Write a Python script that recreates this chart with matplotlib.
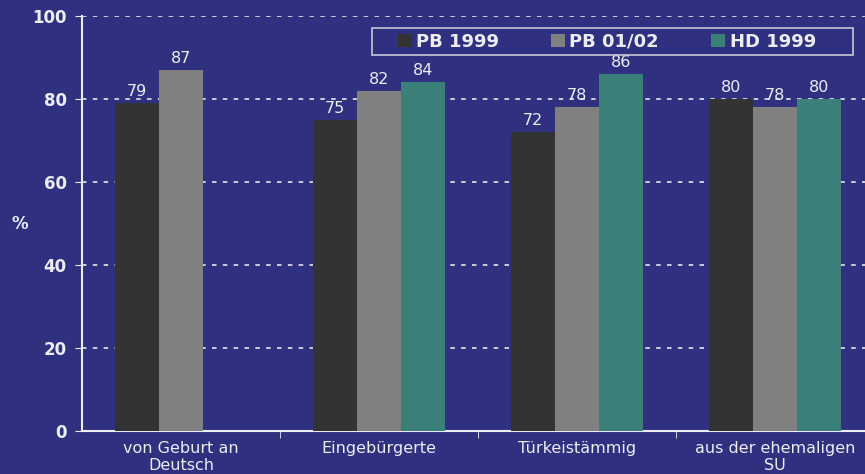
import numpy as np
import matplotlib.pyplot as plt
from matplotlib.patches import Rectangle

kategorien = ['von Geburt an\nDeutsch', 'Eingebürgerte', 'Türkeistämmig', 'aus der ehemaligen\nSU']
pb_1999 = [79, 75, 72, 80]
pb_0102 = [87, 82, 78, 78]
hd_1999 = [np.nan, 84, 86, 80]

reihen = ['PB 1999', 'PB 01/02', 'HD 1999']
farben = ['#333333', '#808080', '#3A8078']
bg = '#2F3080'
txt = '#ECECF4'

fig = plt.figure(figsize=(8.65, 4.74), dpi=100, facecolor=bg)
ax = fig.add_axes([0.0948, 0.0907, 0.9156, 0.8755], facecolor=bg)

x = np.arange(len(kategorien))
breite = 0.222
for i, (werte, name, farbe) in enumerate(zip([pb_1999, pb_0102, hd_1999], reihen, farben)):
    pos = x + (i - 1) * breite
    ax.bar(pos, werte, width=breite, color=farbe, label=name, zorder=3)
    for p, w in zip(pos, werte):
        if not np.isnan(w):
            ax.text(p, w + 1.0, f'{w:.0f}', ha='center', va='bottom',
                    color=txt, fontsize=11.5, zorder=4)

ax.set_xlim(-0.5, 3.5)
ax.set_ylim(0, 100)
ax.set_yticks(range(0, 101, 20))
ax.set_xticks(x)
ax.set_xticklabels(kategorien, color=txt, fontsize=11.5)
ax.set_xticks(np.arange(0.5, 3.5, 1), minor=True)
ax.tick_params(axis='x', which='major', length=0, pad=7)
ax.tick_params(axis='x', which='minor', length=5, color=txt, direction='out')
ax.tick_params(axis='y', length=5, color=txt, labelcolor=txt, labelsize=12, pad=6)
for lbl in ax.get_yticklabels():
    lbl.set_fontweight('bold')

ax.yaxis.grid(True, color='#D8D8E0', linestyle=(0, (2.5, 3.5)), linewidth=1.3, zorder=1)
for s in ['top', 'right']:
    ax.spines[s].set_visible(False)
for s in ['left', 'bottom']:
    ax.spines[s].set_color(txt)
    ax.spines[s].set_linewidth(1.5)

ax.set_ylabel('%', color=txt, fontsize=12, fontweight='bold', rotation=0, va='center')
ax.yaxis.set_label_coords(-0.078, 0.5)

# Legendenrahmen separat zeichnen
rahmen = Rectangle((0.366, 0.906), 0.6075, 0.065, transform=ax.transAxes, facecolor=bg,
                   edgecolor='#C8C8D8', linewidth=1.2, zorder=5, clip_on=False)
ax.add_patch(rahmen)
leg = ax.legend(loc='center left', bbox_to_anchor=(0.399, 0.9385), ncol=3, frameon=False,
                borderaxespad=0, borderpad=0,
                prop={'weight': 'bold', 'size': 13}, handlelength=0.75, handleheight=0.75,
                handletextpad=0.25, columnspacing=2.9)
leg.set_zorder(6)
for t in leg.get_texts():
    t.set_color(txt)

plt.savefig('out.png', dpi=100, facecolor=bg)
